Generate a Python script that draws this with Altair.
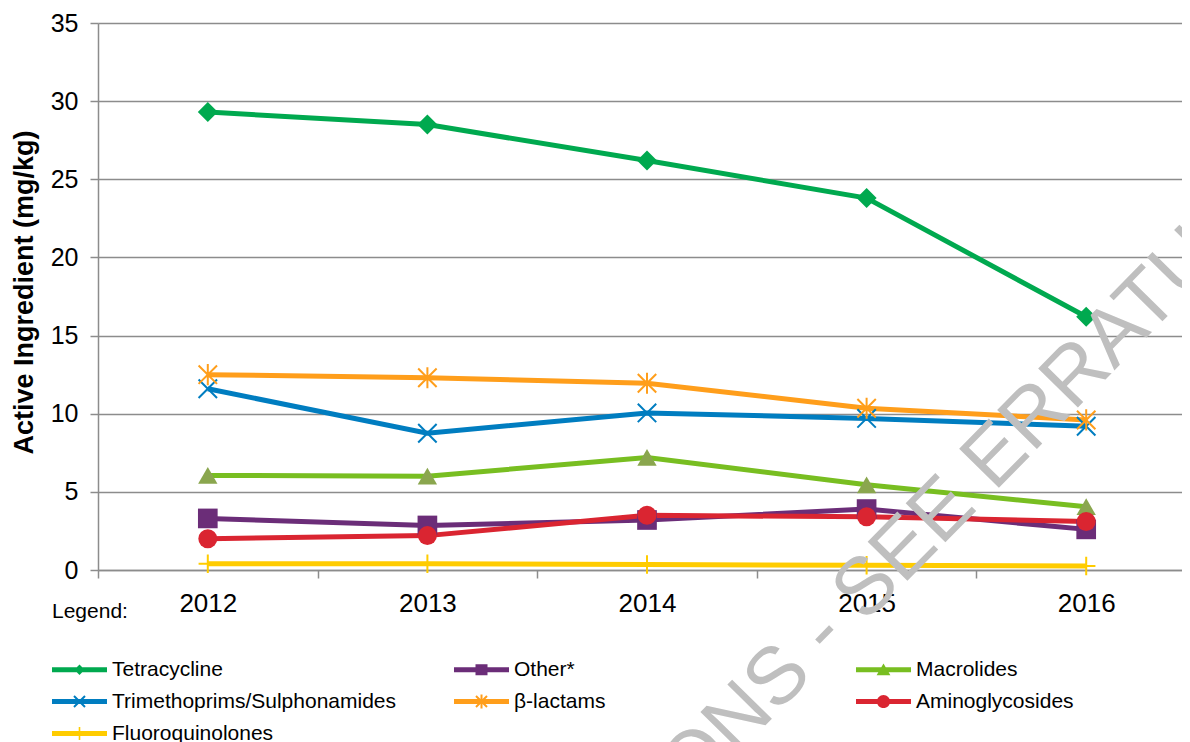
import altair as alt
import pandas as pd

years = ["2012", "2013", "2014", "2015", "2016"]
series = ["Tetracycline", "Other*", "Macrolides", "Trimethoprims/Sulphonamides",
          "β-lactams", "Aminoglycosides", "Fluoroquinolones"]
tetracycline = [29.3, 28.5, 26.2, 23.8, 16.2]
other = [3.3, 2.85, 3.2, 3.9, 2.6]
macrolides = [6.05, 6.0, 7.2, 5.45, 4.05]
trimethoprims = [11.6, 8.75, 10.05, 9.7, 9.2]
beta_lactams = [12.5, 12.3, 11.95, 10.35, 9.6]
aminoglycosides = [2.0, 2.2, 3.5, 3.4, 3.1]
fluoroquinolones = [0.4, 0.4, 0.35, 0.3, 0.25]
values = [tetracycline, other, macrolides, trimethoprims, beta_lactams,
          aminoglycosides, fluoroquinolones]

line_colors = ["#00A94F", "#6B2D78", "#78BE21", "#007DC0", "#FF9E1B", "#DA2531", "#FFCC00"]
y_ticks = [0, 5, 10, 15, 20, 25, 30, 35]
watermark_text = "ONS - SEE ERRATUM"

rows = []
for s, vals in zip(series, values):
    for yr, v in zip(years, vals):
        rows.append({"year": yr, "series": s, "value": v})
df = pd.DataFrame(rows)

FONT = "Liberation Sans"
GRAY = "#8C8C8C"

X = alt.X("year:O", scale=alt.Scale(type="band", domain=years, range=[0, 1098],
                                    paddingInner=0, paddingOuter=0),
          axis=alt.Axis(title=None, labelAngle=0, labelFontSize=26, labelColor="black",
                        labelFont=FONT, labelPadding=12, tickSize=8, tickColor=GRAY,
                        tickWidth=1.5, tickBand="extent", domainColor=GRAY,
                        domainWidth=1.5, grid=False))
Y = alt.Y("value:Q", scale=alt.Scale(domain=[0, 35], nice=False, zero=True),
          axis=alt.Axis(values=y_ticks, title="Active Ingredient (mg/kg)",
                        titleFont=FONT, titleFontSize=27, titleFontWeight="bold",
                        titleColor="black", titleAngle=270, titleBaseline="alphabetic",
                        titleAlign="center", titleX=-66, titleY=269,
                        labelFontSize=25, labelColor="black", labelFont=FONT,
                        labelPadding=12, tickSize=8, tickColor=GRAY, tickWidth=1.5,
                        domainColor=GRAY, domainWidth=1.5, grid=True,
                        gridColor=GRAY, gridWidth=1.4))

base = alt.Chart(df)

lines = base.mark_line(strokeWidth=5).encode(
    x=X, y=Y,
    color=alt.Color("series:N", scale=alt.Scale(domain=series, range=line_colors), legend=None),
)

filled_series = ["Tetracycline", "Other*", "Macrolides", "Aminoglycosides"]
filled_fill = ["#00A94F", "#6B2D78", "#8AA64E", "#DA2531"]
filled_shapes = ["diamond", "square", "triangle-up", "circle"]
filled_sizes = [400, 361, 420, 370]
filled_pts = base.mark_point(filled=True, opacity=1, strokeWidth=0).encode(
    x=X, y=Y,
    fill=alt.Fill("series:N", scale=alt.Scale(domain=filled_series, range=filled_fill), legend=None),
    shape=alt.Shape("series:N", scale=alt.Scale(domain=filled_series, range=filled_shapes), legend=None),
    size=alt.Size("series:N", scale=alt.Scale(domain=filled_series, range=filled_sizes), legend=None),
).transform_filter(alt.FieldOneOfPredicate(field="series", oneOf=filled_series))

stroked_series = ["Trimethoprims/Sulphonamides", "β-lactams", "Fluoroquinolones"]
stroked_colors = ["#007DC0", "#FF9E1B", "#FFCC00"]
stroked_shapes = ["M-1,-1L1,1M-1,1L1,-1",
                  "M-1,-1L1,1M-1,1L1,-1M0,-1.15L0,1.15",
                  "M-1,0L1,0M0,-1L0,1"]
stroked_pts = base.mark_point(filled=False, opacity=1, strokeWidth=2, size=340).encode(
    x=X, y=Y,
    color=alt.Color("series:N", scale=alt.Scale(domain=stroked_series, range=stroked_colors), legend=None),
    shape=alt.Shape("series:N", scale=alt.Scale(domain=stroked_series, range=stroked_shapes), legend=None),
).transform_filter(alt.FieldOneOfPredicate(field="series", oneOf=stroked_series))

# ---- legend symbols: a line segment with the marker on it, drawn as one path ----
U = 21.5                       # px per symbol unit (sqrt(symbolSize)/2)
SYM_SIZE = (2 * U) ** 2


def poly(pts):
    return "M" + "L".join(f"{x / U:.4f},{y / U:.4f}" for x, y in pts) + "Z"


def circle(r):
    r = r / U
    return f"M{-r:.4f},0A{r:.4f} {r:.4f} 0 1 1 {r:.4f},0A{r:.4f} {r:.4f} 0 1 1 {-r:.4f},0Z"


LINE = poly([(-27.5, -2.6), (27.5, -2.6), (27.5, 2.6), (-27.5, 2.6)])
XMARK = (poly([(-4.8, -6.2), (6.2, 4.8), (4.8, 6.2), (-6.2, -4.8)])
         + poly([(-6.2, 4.8), (4.8, -6.2), (6.2, -4.8), (-4.8, 6.2)]))
legend_shapes = [
    LINE + poly([(0, -5.2), (5.2, 0), (0, 5.2), (-5.2, 0)]),
    LINE + poly([(-6, -5.5), (6, -5.5), (6, 5.5), (-6, 5.5)]),
    LINE + poly([(0, -6.3), (6.9, 5.5), (-6.9, 5.5)]),
    LINE + XMARK,
    LINE + XMARK + poly([(-1, -6.9), (1, -6.9), (1, 6.9), (-1, 6.9)]),
    LINE + circle(6.6),
    LINE + poly([(-0.8, -6.6), (0.8, -6.6), (0.8, 6.6), (-0.8, 6.6)]),
]
leg = alt.Legend(title="Legend:", orient="none", legendX=-46, legendY=578, columns=3,
                 direction="horizontal",
                 titleFont=FONT, titleFontSize=21, titleFontWeight="normal",
                 titleColor="black", titlePadding=26, titleAnchor="start",
                 labelFont=FONT, labelFontSize=21, labelColor="black", labelOffset=11,
                 labelLimit=0, symbolSize=SYM_SIZE, symbolOffset=6, symbolStrokeWidth=0,
                 symbolOpacity=1, rowPadding=0, columnPadding=56, gridAlign="all", padding=0)
legend_proxy = base.mark_point(filled=True, size=SYM_SIZE).encode(
    x=X, y=Y,
    color=alt.Color("series:N", scale=alt.Scale(domain=series, range=line_colors), legend=leg),
    shape=alt.Shape("series:N", scale=alt.Scale(domain=series, range=legend_shapes), legend=leg),
).transform_filter("datum.value < -1000")

watermark = alt.Chart(pd.DataFrame({"t": [watermark_text]})).mark_text(
    angle=314.5, fontSize=81, font=FONT, color="#BFBFBF", align="center", baseline="middle"
).encode(text="t:N", x=alt.value(866), y=alt.value(466))

chart = alt.layer(lines, filled_pts, stroked_pts, legend_proxy, watermark).resolve_scale(
    color="independent", shape="independent", fill="independent", size="independent"
).properties(
    width=1084, height=547,
    autosize=alt.AutoSizeParams(type="none"),
    padding={"left": 90, "top": 15, "right": 0, "bottom": 172},
).configure_view(stroke=None)

chart.save("out.html", embed_options={"renderer": "svg", "actions": False})
